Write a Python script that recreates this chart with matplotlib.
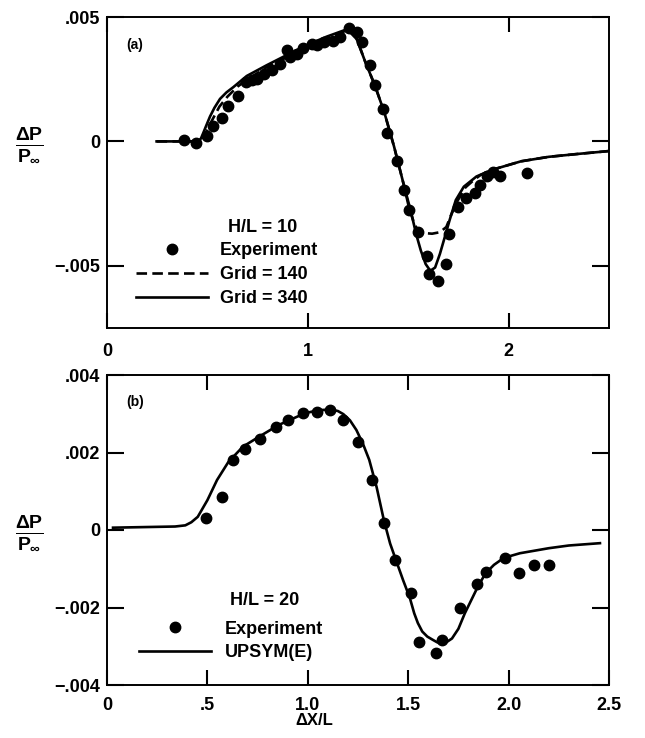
import matplotlib
matplotlib.use("Agg")
import matplotlib.pyplot as plt
from matplotlib.lines import Line2D
from matplotlib.ticker import FixedLocator, FixedFormatter

plt.rcParams['font.family'] = ['Liberation Sans', 'DejaVu Sans']
plt.rcParams['font.weight'] = 'bold'
plt.rcParams['mathtext.fontset'] = 'custom'
plt.rcParams['mathtext.rm'] = 'Liberation Sans:bold'
plt.rcParams['mathtext.it'] = 'Liberation Sans:bold'
plt.rcParams['mathtext.bf'] = 'Liberation Sans:bold'

# ---------------- Panel (a): H/L = 10 ----------------
a_exp_x = [0.383, 0.443, 0.496, 0.527, 0.571, 0.604, 0.651, 0.69, 0.72, 0.745,
           0.78, 0.82, 0.86, 0.895, 0.91, 0.945, 0.978, 1.019, 1.047, 1.08,
           1.127, 1.16, 1.207, 1.243, 1.268, 1.31, 1.335, 1.373, 1.396, 1.443,
           1.479, 1.506, 1.55, 1.592, 1.604, 1.65, 1.688, 1.705, 1.75, 1.788,
           1.833, 1.858, 1.891, 1.924, 1.957, 2.09]
a_exp_y = [0.00005, -0.00005, 0.00022, 0.0006, 0.00095, 0.00141, 0.00182, 0.0024, 0.00245, 0.0025,
           0.0027, 0.00286, 0.0031, 0.00367, 0.0034, 0.0035, 0.00374, 0.0039, 0.00387, 0.004,
           0.00405, 0.0042, 0.00455, 0.0044, 0.004, 0.00306, 0.00225, 0.0013, 0.00035, -0.0008,
           -0.00195, -0.00276, -0.00365, -0.0046, -0.00534, -0.00561, -0.00493, -0.00371, -0.00263, -0.00229,
           -0.00209, -0.00175, -0.00141, -0.00121, -0.00141, -0.00127]

a_g340_x = [0.247, 0.455, 0.468, 0.48, 0.495, 0.513, 0.535, 0.563, 0.595, 0.629,
            0.696, 0.795, 0.895, 0.995, 1.094, 1.2, 1.215, 1.239, 1.286, 1.334,
            1.381, 1.429, 1.476, 1.516, 1.539, 1.563, 1.587, 1.61, 1.634, 1.658,
            1.682, 1.706, 1.737, 1.777, 1.84, 1.919, 2.062, 2.2, 2.35, 2.497]
a_g340_y = [0.0, 0.0, 0.00012, 0.00035, 0.00065, 0.001, 0.00135, 0.00171, 0.00197, 0.00218,
            0.00263, 0.00306, 0.00347, 0.00387, 0.00421, 0.00452, 0.00448, 0.00421, 0.0032, 0.00225,
            0.00117, -0.00019, -0.00168, -0.0029, -0.00371, -0.00439, -0.00493, -0.0052, -0.00507, -0.00452,
            -0.00385, -0.00317, -0.00236, -0.00182, -0.00141, -0.00114, -0.0008, -0.00062, -0.0005, -0.00039]

a_g140_x = [0.247, 0.47, 0.49, 0.52, 0.56, 0.60, 0.65, 0.70, 0.80, 0.90,
            1.0, 1.095, 1.19, 1.215, 1.245, 1.286, 1.334, 1.381, 1.429, 1.476,
            1.505, 1.532, 1.55, 1.571, 1.619, 1.658, 1.69, 1.713, 1.745, 1.785,
            1.82, 1.86, 1.919, 2.062, 2.2, 2.35, 2.497]
a_g140_y = [0.0, 0.0, 0.0003, 0.0008, 0.0014, 0.0018, 0.0022, 0.0025, 0.003, 0.0034,
            0.0038, 0.00415, 0.00445, 0.00435, 0.0041, 0.0032, 0.00225, 0.00117, -0.00019, -0.00168,
            -0.0027, -0.00335, -0.00358, -0.00368, -0.00371, -0.00365, -0.00344, -0.00297, -0.0024, -0.00185,
            -0.0016, -0.00135, -0.00114, -0.0008, -0.00062, -0.0005, -0.00039]

a_xticks = [0, 1, 2]
a_xticklabels = ["0", "1", "2"]
a_yticks = [-0.005, 0, 0.005]
a_yticklabels = ["\u2212.005", "0", ".005"]

# ---------------- Panel (b): H/L = 20 ----------------
b_exp_x = [0.493, 0.571, 0.629, 0.687, 0.762, 0.842, 0.903, 0.978, 1.044, 1.111,
           1.177, 1.252, 1.318, 1.379, 1.434, 1.512, 1.554, 1.637, 1.667, 1.758,
           1.841, 1.886, 1.982, 2.052, 2.126, 2.203]
b_exp_y = [0.0003, 0.00086, 0.00181, 0.00208, 0.00235, 0.00267, 0.00284, 0.00301, 0.00304, 0.0031,
           0.00284, 0.00228, 0.00129, 0.00017, -0.00077, -0.00163, -0.00288, -0.00317, -0.00284, -0.00202,
           -0.00139, -0.00108, -0.00073, -0.00112, -0.0009, -0.0009]

b_ups_x = [0.03, 0.339, 0.39, 0.42, 0.452, 0.5, 0.548, 0.605, 0.677, 0.758,
           0.855, 0.984, 1.05, 1.113, 1.15, 1.177, 1.21, 1.242, 1.275, 1.306,
           1.343, 1.379, 1.41, 1.444, 1.475, 1.508, 1.53, 1.548, 1.57, 1.595,
           1.621, 1.645, 1.669, 1.695, 1.718, 1.75, 1.782, 1.815, 1.847, 1.885,
           1.927, 1.976, 2.056, 2.2, 2.3, 2.455]
b_ups_y = [0.00006, 0.00009, 0.00012, 0.0002, 0.00034, 0.00077, 0.00129, 0.00176, 0.00215, 0.00241,
           0.00271, 0.00301, 0.00309, 0.00311, 0.00307, 0.00299, 0.00283, 0.00258, 0.00222, 0.00181,
           0.0011, 0.00025, -0.00035, -0.00085, -0.0013, -0.00175, -0.00215, -0.0024, -0.00262, -0.00275,
           -0.00283, -0.0029, -0.00292, -0.00288, -0.0028, -0.00255, -0.00215, -0.0018, -0.00146, -0.00112,
           -0.0009, -0.00072, -0.0006, -0.00047, -0.0004, -0.00034]

b_xticks = [0, 0.5, 1.0, 1.5, 2.0, 2.5]
b_xticklabels = ["0", ".5", "1.0", "1.5", "2.0", "2.5"]
b_yticks = [-0.004, -0.002, 0, 0.002, 0.004]
b_yticklabels = ["\u2212.004", "\u2212.002", "0", ".002", ".004"]

W, H = 645, 738
fig = plt.figure(figsize=(W / 100, H / 100), dpi=100)

def axes_px(left, top, right, bottom):
    return fig.add_axes([left / W, (H - bottom) / H, (right - left) / W, (bottom - top) / H])

ax1 = axes_px(107, 17, 609, 328)
ax2 = axes_px(107, 375, 609, 685)

LW = 1.9
MS = 7.5
FS = 13

def style(ax, xticks, xlabels, yticks, ylabels, ylim, xpad):
    ax.set_xlim(0, 2.5)
    ax.set_ylim(*ylim)
    ax.xaxis.set_major_locator(FixedLocator(xticks))
    ax.xaxis.set_major_formatter(FixedFormatter(xlabels))
    ax.yaxis.set_major_locator(FixedLocator(yticks))
    ax.yaxis.set_major_formatter(FixedFormatter(ylabels))
    ax.tick_params(axis='both', direction='in', width=1.5, labelsize=FS,
                   top=True, right=True)
    ax.tick_params(axis='x', length=11, pad=xpad)
    ax.tick_params(axis='y', length=12.5, pad=5)
    for lab in ax.get_xticklabels() + ax.get_yticklabels():
        lab.set_fontweight('bold')
    for s in ax.spines.values():
        s.set_linewidth(1.4)

# Panel (a)
ax1.plot(a_g140_x, a_g140_y, color='black', lw=LW, ls=(0, (4, 2)))
ax1.plot(a_g340_x, a_g340_y, color='black', lw=LW, ls='-')
ax1.plot(a_exp_x, a_exp_y, 'o', color='black', ms=MS, ls='none')
style(ax1, a_xticks, a_xticklabels, a_yticks, a_yticklabels, (-0.0075, 0.005), 11)

h1 = [Line2D([], [], marker='o', color='black', ms=MS, ls='none'),
      Line2D([], [], color='black', lw=LW, ls=(0, (4, 2))),
      Line2D([], [], color='black', lw=LW, ls='-')]
leg1 = ax1.legend(h1, ["Experiment", "Grid = 140", "Grid = 340"], loc='lower left',
                  bbox_to_anchor=(0.058, 0.068), frameon=False, fontsize=FS,
                  handlelength=4.0, handletextpad=0.65, labelspacing=0.37,
                  borderpad=0, borderaxespad=0)
for t in leg1.get_texts():
    t.set_fontweight('bold')
ax1.text(0.241, 0.322, "H/L = 10", transform=ax1.transAxes, fontsize=FS,
         fontweight='bold', va='center', ha='left')
ax1.text(0.038, 0.91, "(a)", transform=ax1.transAxes, fontsize=10,
         fontweight='bold', va='center', ha='left')

# Panel (b)
ax2.plot(b_ups_x, b_ups_y, color='black', lw=LW, ls='-')
ax2.plot(b_exp_x, b_exp_y, 'o', color='black', ms=MS, ls='none')
style(ax2, b_xticks, b_xticklabels, b_yticks, b_yticklabels, (-0.004, 0.004), 9)

h2 = [Line2D([], [], marker='o', color='black', ms=MS, ls='none'),
      Line2D([], [], color='black', lw=LW, ls='-')]
leg2 = ax2.legend(h2, ["Experiment", "UPSYM(E)"], loc='lower left',
                  bbox_to_anchor=(0.064, 0.0765), frameon=False, fontsize=FS,
                  handlelength=4.0, handletextpad=0.75, labelspacing=0.37,
                  borderpad=0, borderaxespad=0)
for t in leg2.get_texts():
    t.set_fontweight('bold')
ax2.text(0.245, 0.274, "H/L = 20", transform=ax2.transAxes, fontsize=FS,
         fontweight='bold', va='center', ha='left')
ax2.text(0.038, 0.913, "(b)", transform=ax2.transAxes, fontsize=10,
         fontweight='bold', va='center', ha='left')

ax2.set_xlabel("\u0394X/L", fontsize=FS - 1, fontweight='bold')
ax2.xaxis.set_label_coords(0.412, -0.09)

ylab = r"$\frac{\Delta P}{P_{\infty}}$"
fig.text(29 / W, (H - 145) / H, ylab, fontsize=20, ha='center', va='center')
fig.text(29 / W, (H - 533) / H, ylab, fontsize=20, ha='center', va='center')

fig.savefig("out.png", dpi=100)
